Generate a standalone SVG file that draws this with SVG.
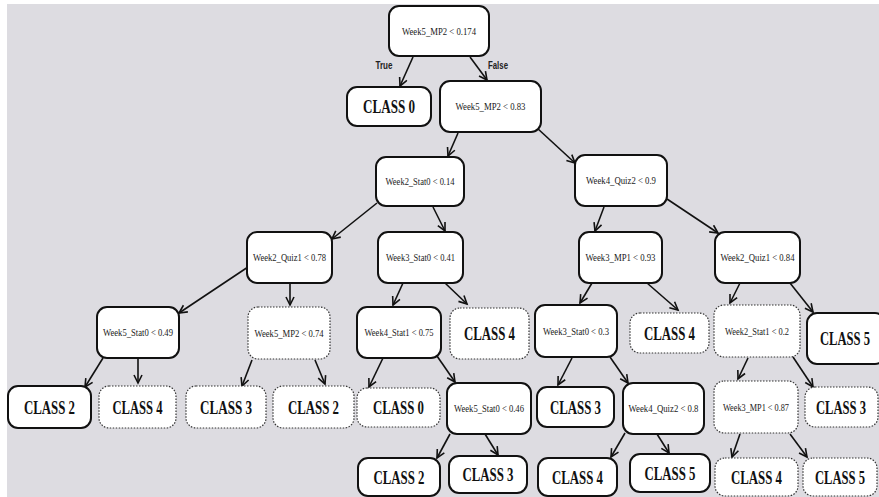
<svg xmlns="http://www.w3.org/2000/svg" width="879" height="497" viewBox="0 0 879 497">
<style>
.bx{fill:#fff;stroke:#111;stroke-width:2}
.dx{fill:#fff;stroke:#333;stroke-width:1.2;stroke-dasharray:1.5 1.5}
.c{font-family:"Liberation Serif",serif;font-size:10.5px;fill:#1a1a1a;text-anchor:middle}
.k{font-family:"Liberation Serif",serif;font-size:18px;font-weight:bold;fill:#111;text-anchor:middle}
.l{font-family:"Liberation Sans",sans-serif;font-size:10px;font-weight:bold;fill:#222;text-anchor:middle}
.e line{stroke:#111;stroke-width:1.6;marker-end:url(#ah)}
</style>
<defs>
<marker id="ah" markerUnits="userSpaceOnUse" markerWidth="12" markerHeight="12" refX="9" refY="5" orient="auto">
<path d="M1,1 L9,5 L1,9" fill="none" stroke="#111" stroke-width="1.6"/>
</marker>
</defs>
<rect x="0" y="0" width="879" height="497" fill="#fff"/>
<rect x="7" y="4" width="872" height="493" fill="#dddce1"/>
<g id="connectors" class="e">
<line x1="413" y1="57" x2="400" y2="86"/>
<line x1="470" y1="57" x2="487" y2="80"/>
<line x1="458" y1="133" x2="448" y2="156"/>
<line x1="537" y1="128" x2="575" y2="163"/>
<line x1="377" y1="203" x2="332" y2="239"/>
<line x1="433" y1="207" x2="445" y2="231"/>
<line x1="604" y1="207" x2="595" y2="231"/>
<line x1="667" y1="199" x2="718" y2="233"/>
<line x1="248" y1="267" x2="179" y2="313"/>
<line x1="290" y1="283" x2="290" y2="305"/>
<line x1="403" y1="283" x2="393" y2="305"/>
<line x1="445" y1="283" x2="467" y2="304"/>
<line x1="592" y1="283" x2="580" y2="303"/>
<line x1="647" y1="283" x2="678" y2="310"/>
<line x1="740" y1="283" x2="730" y2="303"/>
<line x1="790" y1="283" x2="813" y2="312"/>
<line x1="103" y1="358" x2="85" y2="387"/>
<line x1="138" y1="358" x2="138" y2="383"/>
<line x1="252" y1="360" x2="242" y2="386"/>
<line x1="315" y1="360" x2="325" y2="384"/>
<line x1="383" y1="358" x2="369" y2="387"/>
<line x1="437" y1="356" x2="455" y2="382"/>
<line x1="572" y1="358" x2="558" y2="385"/>
<line x1="610" y1="357" x2="628" y2="383"/>
<line x1="748" y1="358" x2="738" y2="379"/>
<line x1="793" y1="357" x2="813" y2="387"/>
<line x1="450" y1="434" x2="437" y2="458"/>
<line x1="485" y1="434" x2="498" y2="455"/>
<line x1="625" y1="433" x2="611" y2="457"/>
<line x1="657" y1="434" x2="669" y2="453"/>
<line x1="740" y1="434" x2="732" y2="457"/>
<line x1="790" y1="434" x2="807" y2="457"/>
<text class="l" x="384" y="69" textLength="17" lengthAdjust="spacingAndGlyphs">True</text>
<text class="l" x="498" y="69" textLength="20" lengthAdjust="spacingAndGlyphs">False</text>
</g>
<g id="n0"><rect class="bx" x="389" y="6" width="100" height="50" rx="10"/><text class="c" x="439" y="34.5" textLength="74" lengthAdjust="spacingAndGlyphs">Week5_MP2 &lt; 0.174</text></g>
<g id="n1"><rect class="bx" x="347" y="87" width="84" height="39" rx="10"/><text class="k" x="389" y="112.5" textLength="52" lengthAdjust="spacingAndGlyphs">CLASS 0</text></g>
<g id="n2"><rect class="bx" x="440" y="81" width="101" height="51" rx="10"/><text class="c" x="490.5" y="110" textLength="70" lengthAdjust="spacingAndGlyphs">Week5_MP2 &lt; 0.83</text></g>
<g id="n3"><rect class="bx" x="376" y="157" width="88" height="49" rx="10"/><text class="c" x="420" y="185" textLength="69" lengthAdjust="spacingAndGlyphs">Week2_Stat0 &lt; 0.14</text></g>
<g id="n4"><rect class="bx" x="575" y="155" width="92" height="51" rx="10"/><text class="c" x="621" y="184" textLength="70" lengthAdjust="spacingAndGlyphs">Week4_Quiz2 &lt; 0.9</text></g>
<g id="n5"><rect class="bx" x="247" y="232" width="85" height="51" rx="10"/><text class="c" x="289.5" y="261" textLength="73" lengthAdjust="spacingAndGlyphs">Week2_Quiz1 &lt; 0.78</text></g>
<g id="n6"><rect class="bx" x="378" y="232" width="85" height="51" rx="10"/><text class="c" x="420.5" y="261" textLength="69" lengthAdjust="spacingAndGlyphs">Week3_Stat0 &lt; 0.41</text></g>
<g id="n7"><rect class="bx" x="579" y="232" width="83" height="51" rx="10"/><text class="c" x="620.5" y="261" textLength="70" lengthAdjust="spacingAndGlyphs">Week3_MP1 &lt; 0.93</text></g>
<g id="n8"><rect class="bx" x="715" y="232" width="85" height="51" rx="10"/><text class="c" x="757.5" y="261" textLength="74" lengthAdjust="spacingAndGlyphs">Week2_Quiz1 &lt; 0.84</text></g>
<g id="n9"><rect class="bx" x="97" y="307" width="82" height="51" rx="10"/><text class="c" x="138" y="336" textLength="70" lengthAdjust="spacingAndGlyphs">Week5_Stat0 &lt; 0.49</text></g>
<g id="n10"><rect class="dx" x="248" y="307" width="82" height="52" rx="10"/><text class="c" x="289" y="336.5" textLength="69" lengthAdjust="spacingAndGlyphs">Week5_MP2 &lt; 0.74</text></g>
<g id="n11"><rect class="bx" x="357" y="307" width="84" height="51" rx="10"/><text class="c" x="399" y="336" textLength="69" lengthAdjust="spacingAndGlyphs">Week4_Stat1 &lt; 0.75</text></g>
<g id="n12"><rect class="dx" x="450" y="308" width="79" height="51" rx="10"/><text class="k" x="489.5" y="340" textLength="51" lengthAdjust="spacingAndGlyphs">CLASS 4</text></g>
<g id="n13"><rect class="bx" x="535" y="305" width="82" height="52" rx="10"/><text class="c" x="576" y="334.5" textLength="66" lengthAdjust="spacingAndGlyphs">Week3_Stat0 &lt; 0.3</text></g>
<g id="n14"><rect class="dx" x="630" y="313" width="79" height="40" rx="10"/><text class="k" x="669.5" y="339.5" textLength="51" lengthAdjust="spacingAndGlyphs">CLASS 4</text></g>
<g id="n15"><rect class="dx" x="714" y="305" width="86" height="52" rx="10"/><text class="c" x="757" y="334.5" textLength="64" lengthAdjust="spacingAndGlyphs">Week2_Stat1 &lt; 0.2</text></g>
<g id="n16"><rect class="bx" x="807" y="313" width="78" height="51" rx="10"/><text class="k" transform="translate(845 345) scale(0.7 1)">CLASS 5</text></g>
<g id="n17"><rect class="bx" x="8" y="386" width="83" height="42" rx="10"/><text class="k" x="49.5" y="413.5" textLength="51" lengthAdjust="spacingAndGlyphs">CLASS 2</text></g>
<g id="n18"><rect class="dx" x="99" y="386" width="77" height="42" rx="10"/><text class="k" x="137.5" y="413.5" textLength="50" lengthAdjust="spacingAndGlyphs">CLASS 4</text></g>
<g id="n19"><rect class="dx" x="186" y="386" width="80" height="42" rx="10"/><text class="k" x="226" y="413.5" textLength="52" lengthAdjust="spacingAndGlyphs">CLASS 3</text></g>
<g id="n20"><rect class="dx" x="273" y="386" width="81" height="42" rx="10"/><text class="k" x="313.5" y="413.5" textLength="51" lengthAdjust="spacingAndGlyphs">CLASS 2</text></g>
<g id="n21"><rect class="dx" x="357" y="388" width="83" height="39" rx="10"/><text class="k" x="398.5" y="414" textLength="51" lengthAdjust="spacingAndGlyphs">CLASS 0</text></g>
<g id="n22"><rect class="bx" x="447" y="383" width="84" height="51" rx="10"/><text class="c" x="489" y="412" textLength="70" lengthAdjust="spacingAndGlyphs">Week5_Stat0 &lt; 0.46</text></g>
<g id="n23"><rect class="bx" x="537" y="387" width="77" height="40" rx="10"/><text class="k" x="575.5" y="413.5" textLength="51" lengthAdjust="spacingAndGlyphs">CLASS 3</text></g>
<g id="n24"><rect class="bx" x="623" y="383" width="81" height="51" rx="10"/><text class="c" x="663.5" y="412" textLength="70" lengthAdjust="spacingAndGlyphs">Week4_Quiz2 &lt; 0.8</text></g>
<g id="n25"><rect class="dx" x="714" y="381" width="84" height="52" rx="10"/><text class="c" x="756" y="410.5" textLength="66" lengthAdjust="spacingAndGlyphs">Week3_MP1 &lt; 0.87</text></g>
<g id="n26"><rect class="dx" x="805" y="387" width="73" height="40" rx="10"/><text class="k" transform="translate(841 413.5) scale(0.7 1)">CLASS 3</text></g>
<g id="n27"><rect class="bx" x="358" y="458" width="82" height="38" rx="10"/><text class="k" x="399" y="483.5" textLength="51" lengthAdjust="spacingAndGlyphs">CLASS 2</text></g>
<g id="n28"><rect class="bx" x="449" y="456" width="78" height="37" rx="10"/><text class="k" x="488" y="481" textLength="51" lengthAdjust="spacingAndGlyphs">CLASS 3</text></g>
<g id="n29"><rect class="bx" x="538" y="458" width="79" height="38" rx="10"/><text class="k" x="577.5" y="483.5" textLength="51" lengthAdjust="spacingAndGlyphs">CLASS 4</text></g>
<g id="n30"><rect class="bx" x="630" y="454" width="80" height="38" rx="10"/><text class="k" x="670" y="479.5" textLength="51" lengthAdjust="spacingAndGlyphs">CLASS 5</text></g>
<g id="n31"><rect class="dx" x="715" y="458" width="83" height="38" rx="10"/><text class="k" x="756.5" y="483.5" textLength="51" lengthAdjust="spacingAndGlyphs">CLASS 4</text></g>
<g id="n32"><rect class="dx" x="803" y="458" width="74" height="38" rx="10"/><text class="k" transform="translate(840 483.5) scale(0.7 1)">CLASS 5</text></g>
</svg>
